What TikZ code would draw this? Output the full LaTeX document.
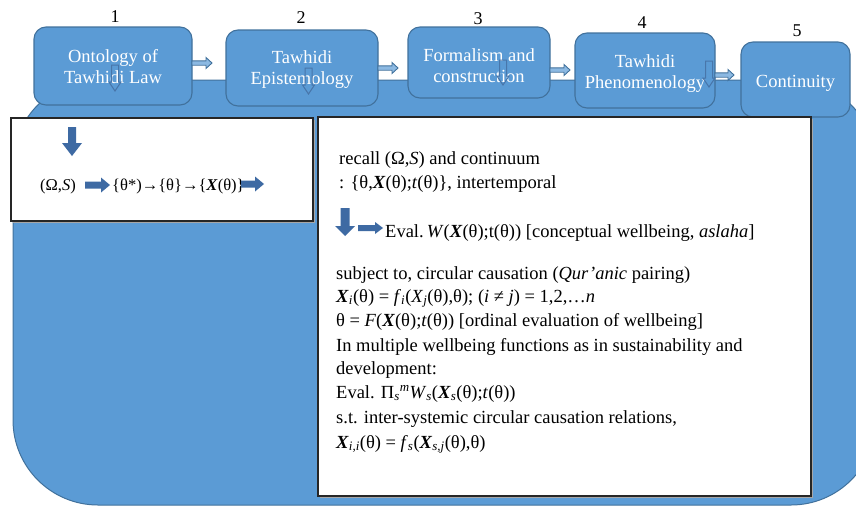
\documentclass[tikz,border=0pt]{standalone}
\usepackage{fontspec}
\setmainfont{Liberation Serif}
\definecolor{boxblue}{RGB}{91,155,213}
\definecolor{boxborder}{RGB}{65,113,156}
\definecolor{arrowblue}{RGB}{62,106,163}
\definecolor{hollowline}{RGB}{72,118,170}
\newcommand{\myRarrow}[7]{\path[#1] (#2,#3) ++(0,-#5) -- ++(#4-#7,0) -- ++(0,#5-#6) -- ++(#7,#6) -- ++(-#7,#6) -- ++(0,#5-#6) -- ++(-#4+#7,0) -- cycle;}
\newcommand{\myDarrow}[7]{\path[#1] (#2,#3) ++(-#5,0) -- ++(0,#4-#7) -- ++(#5-#6,0) -- ++(#6,#7) -- ++(#6,-#7) -- ++(#5-#6,0) -- ++(0,-#4+#7) -- cycle;}
\newcommand{\bX}{\textbf{\textit{X}}}
\tikzset{
 topbox/.style={draw=boxborder, fill=boxblue, line width=1.1pt, rounded corners=12pt, inner sep=0pt},
 toptext/.style={text=white, font=\fontsize{18.5}{21}\selectfont, align=center, inner sep=0pt},
 numlabel/.style={font=\fontsize{18}{20}\selectfont, inner sep=0pt},
 whitebox/.style={draw=black!85, fill=white, line width=1.1pt, inner sep=0pt},
 boxshadow/.style={fill=black!35},
 bodytext/.style={font=\fontsize{18.5}{22}\selectfont, inner sep=0pt, anchor=base west},
 formtext/.style={font=\fontsize{16.5}{20}\selectfont, inner sep=0pt, anchor=base west},
 bigarrow/.style={fill=arrowblue},
 linkarrow/.style={fill=boxblue!70!white, draw=boxborder, line width=0.9pt},
 hollowarrow/.style={draw=hollowline, line width=1pt},
 band/.style={fill=boxblue, draw=boxborder, line width=1pt},
}
\begin{document}
\begin{tikzpicture}[x=1pt,y=-1pt]
\useasboundingbox (0,0) rectangle (856,506);
\begin{scope}
\clip (0,0) rectangle (856,506);
\path[band, rounded corners=85pt] (13,80) rectangle (876,505);
\end{scope}
% top boxes
\node[topbox, minimum width=158pt, minimum height=78pt] (b1) at (113,66) {};
\node[topbox, minimum width=152pt, minimum height=76pt] (b2) at (302,68) {};
\node[topbox, minimum width=142pt, minimum height=71pt] (b3) at (479,62.5) {};
\node[topbox, minimum width=140pt, minimum height=75pt] (b4) at (645,70.5) {};
\node[topbox, minimum width=109pt, minimum height=75pt] (b5) at (795.5,79.5) {};
\node[toptext] (t1) at ([yshift=-1pt]b1.center) {Ontology of\\Tawhidi Law};
\node[toptext] (t2) at ([yshift=-1.5pt]b2.center) {Tawhidi\\Epistemology};
\node[toptext] (t3) at ([yshift=-3pt]b3.center) {Formalism and\\construction};
\node[toptext] (t4) at ([yshift=-3pt]b4.center) {Tawhidi\\Phenomenology};
\node[toptext] (t5) at ([yshift=-3.5pt]b5.center) {Continuity};
% numbers
\node[numlabel] (n1) at (115,17) {1};
\node[numlabel] (n2) at (301,18) {2};
\node[numlabel] (n3) at (478,19) {3};
\node[numlabel] (n4) at (642,23) {4};
\node[numlabel] (n5) at (797,31) {5};
% hollow down arrows inside boxes
\myDarrow{hollowarrow}{115}{65}{26}{3.5}{6}{9}
\myDarrow{hollowarrow}{308.5}{68}{26}{3.5}{6}{9}
\myDarrow{hollowarrow}{503}{60}{25}{3.5}{6}{9}
\myDarrow{hollowarrow}{709}{61}{26}{3.5}{6}{9}
% link arrows between boxes
\myRarrow{linkarrow}{192}{63}{20}{2.2}{5.5}{6}
\myRarrow{linkarrow}{378}{68}{20}{2.2}{5.5}{6}
\myRarrow{linkarrow}{550}{70}{20}{2.2}{5.5}{6}
\myRarrow{linkarrow}{715}{75}{19}{2.2}{5.5}{6}
% white boxes
\fill[boxshadow] (13,120) rectangle (315,223);
\node[whitebox, minimum width=302pt, minimum height=103pt] (lb) at (162,169.5) {};
\fill[boxshadow] (320,119) rectangle (813,498);
\node[whitebox, minimum width=493pt, minimum height=379pt] (rb) at (564.5,306.5) {};
% left box content
\myDarrow{bigarrow}{72}{127}{29}{4}{10}{13}
\node[formtext] (f1) at (40,190) {(Ω,\textit{S})};
\myRarrow{bigarrow}{85}{185}{25}{3.5}{7.5}{9}
\node[formtext] (f2) at (112,190) {\{θ*)→\{θ\}→\{\bX(θ)\}};
\myRarrow{bigarrow}{241}{184}{23}{3.5}{7.5}{9}
% right box content
\node[bodytext] (l1) at (339,164) {recall (Ω,\textit{S}) and continuum};
\node[bodytext] (l2) at (339,188) {: \{θ,\bX(θ);\textit{t}(θ)\}, intertemporal};
\myDarrow{bigarrow}{345}{208}{28}{4.5}{10}{10}
\myRarrow{bigarrow}{358}{228}{25}{3}{6}{8}
\node[bodytext] (l3) at (385,237) {Eval.\,\textit{W}(\bX(θ);t(θ)) [conceptual wellbeing, \textit{aslaha}]};
\node[bodytext] (l4) at (336,279) {subject to, circular causation (\textit{Qur’anic} pairing)};
\node[bodytext] (l5) at (336,302) {\bX\textsubscript{\textit{i}}(θ) = \textit{f}\textsubscript{\textit{i}}(\textit{X}\textsubscript{\textit{j}}(θ),θ); (\textit{i} ≠ \textit{j}) = 1,2,…\textit{n}};
\node[bodytext] (l6) at (336,326) {θ = \textit{F}(\bX(θ);\textit{t}(θ)) [ordinal evaluation of wellbeing]};
\node[bodytext] (l7) at (336,351) {In multiple wellbeing functions as in sustainability and};
\node[bodytext] (l8) at (336,374) {development:};
\node[bodytext] (l9) at (336,398) {Eval. Π\textsubscript{\textit{s}}\textsuperscript{\textit{m}}\textit{W}\textsubscript{\textit{s}}(\bX\textsubscript{\textit{s}}(θ);\textit{t}(θ))};
\node[bodytext] (l10) at (336,423) {s.t. inter-systemic circular causation relations,};
\node[bodytext] (l11) at (336,448) {\bX\textsubscript{\textit{i,i}}(θ) = \textit{f}\textsubscript{\textit{s}}(\bX\textsubscript{\textit{s,j}}(θ),θ)};
\end{tikzpicture}
\end{document}
